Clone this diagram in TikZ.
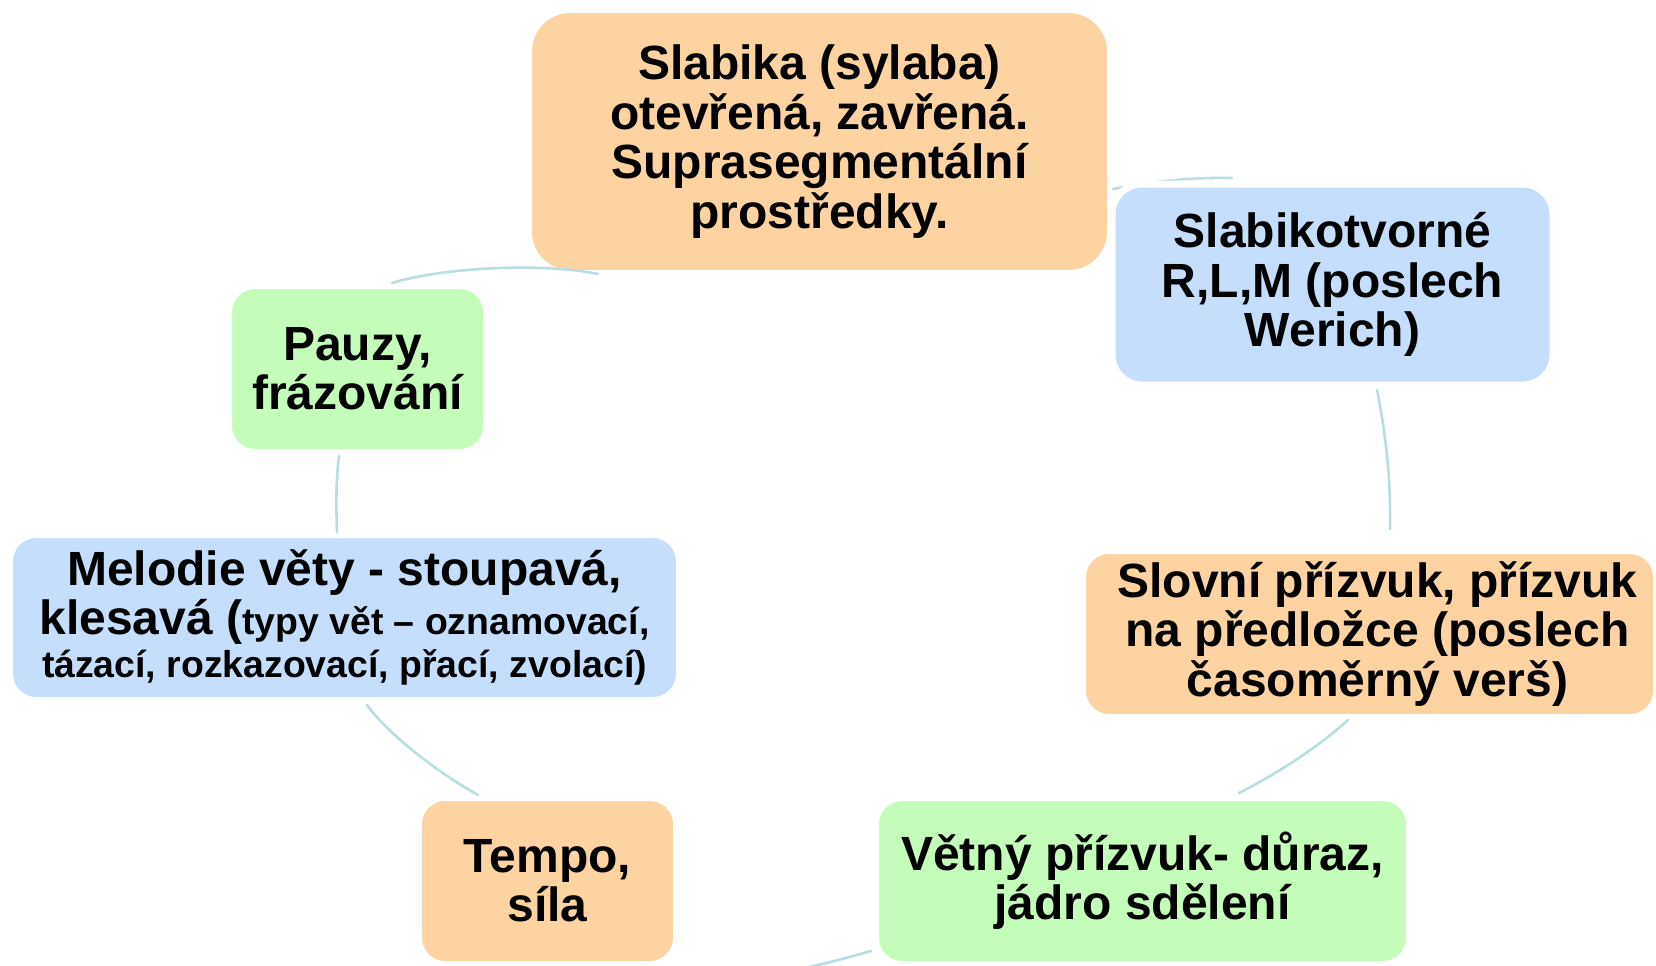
\documentclass[tikz,border=0pt]{standalone}
\usepackage{fontspec}
\setmainfont{Liberation Sans}
\definecolor{orangebox}{RGB}{252,211,161}
\definecolor{bluebox}{RGB}{196,222,252}
\definecolor{greenbox}{RGB}{196,252,185}
\definecolor{arccol}{RGB}{184,222,228}
\newcommand\smalltxt[1]{{\fontsize{18.7}{21}\selectfont #1}}
\tikzset{
  box/.style={draw=white, line width=2pt, inner sep=0pt, align=center, text=black,
    font=\fontsize{24}{24.7}\selectfont\bfseries},
  obox/.style={box, fill=orangebox},
  bbox/.style={box, fill=bluebox},
  gbox/.style={box, fill=greenbox},
  cyclearc/.style={draw=arccol, line width=1.3pt, line cap=round},
}
\begin{document}
\begin{tikzpicture}[x=0.5pt, y=-0.5pt]
\fill[white] (0,0) rectangle (1656,965);
\useasboundingbox (0,0) rectangle (1656,965);

% arc hidden partly behind the blue box
\coordinate (a1s) at (1113,189);
\coordinate (a1e) at (1232,178);
\draw[cyclearc] (a1s) .. controls (1140,184) and (1180,177) .. (a1e);

\node[obox, minimum width=289.5pt, minimum height=130.5pt, rounded corners=20pt] (top) at (819.5,141.5)
  {Slabika (sylaba)\\ otevřená, zavřená.\\ Suprasegmentální\\ prostředky.};
\node[bbox, line width=3.5pt, minimum width=220.5pt, minimum height=100.5pt, rounded corners=15pt] (slab) at (1332.5,284.5)
  {Slabikotvorné\\ R,L,M (poslech\\ Werich)};
\node[obox, minimum width=285.5pt, minimum height=82pt, rounded corners=12.5pt] (slovni) at (1369.5,634)
  {\hspace*{8pt}Slovní přízvuk, přízvuk\\ \hspace*{8pt}na předložce (poslech\\ \hspace*{8pt}časoměrný verš)};
\node[gbox, minimum width=265.5pt, minimum height=82pt, rounded corners=12.5pt] (vetny) at (1142.5,881)
  {Větný přízvuk- důraz,\\ jádro sdělení};
\node[obox, minimum width=127.5pt, minimum height=82pt, rounded corners=12.5pt] (tempo) at (547.5,881)
  {Tempo,\\ síla};
\node[bbox, minimum width=333.5pt, minimum height=81.5pt, rounded corners=12.5pt] (melodie) at (344.5,617.5)
  {Melodie věty - stoupavá,\\ klesavá (\smalltxt{typy vět – oznamovací,}\\[-3.2pt] \smalltxt{tázací, rozkazovací, přací, zvolací)}};
\node[gbox, minimum width=127.5pt, minimum height=82pt, rounded corners=12.5pt] (pauzy) at (357.5,369)
  {Pauzy,\\ frázování};

% remaining arcs of the cycle
\coordinate (a2s) at (1377,390);
\coordinate (a2e) at (1390,529);
\draw[cyclearc] (a2s) .. controls (1385,430) and (1391,475) .. (a2e);
\coordinate (a3s) at (1348,720);
\coordinate (a3e) at (1239,793);
\draw[cyclearc] (a3s) .. controls (1318,747) and (1280,772) .. (a3e);
\coordinate (a4s) at (871,951);
\coordinate (a4e) at (804,968);
\draw[cyclearc] (a4s) .. controls (850,957) and (828,963) .. (a4e);
\coordinate (a5s) at (478,795);
\coordinate (a5e) at (367,705);
\draw[cyclearc] (a5s) .. controls (430,768) and (385,730) .. (a5e);
\coordinate (a6s) at (337,532);
\coordinate (a6e) at (339,456);
\draw[cyclearc] (a6s) .. controls (336,505) and (336,480) .. (a6e);
\coordinate (a7s) at (392,283);
\coordinate (a7e) at (598,274);
\draw[cyclearc] (a7s) .. controls (440,268) and (540,262) .. (a7e);
\end{tikzpicture}
\end{document}
